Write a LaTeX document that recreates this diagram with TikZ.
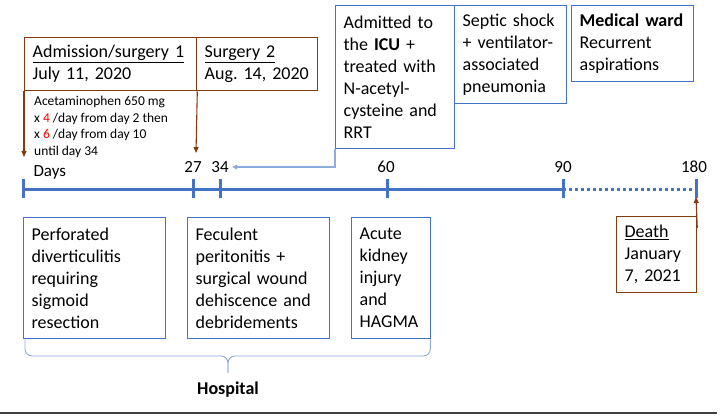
\documentclass[tikz,border=0pt]{standalone}
\usepackage{fontspec}
\setmainfont{Carlito}
\usetikzlibrary{calc,arrows.meta}
\definecolor{evblue}{HTML}{4472C4}
\definecolor{evlight}{HTML}{8FAADC}
\definecolor{evbrown}{HTML}{843C0C}
\frenchspacing
\begin{document}
\begin{tikzpicture}[x=1pt,y=-1pt,
	evbox/.style={draw=evblue, line width=1.3pt, anchor=north west, align=left, inner xsep=8pt, inner ysep=0pt, font=\fontsize{18}{22}\selectfont},
	brbox/.style={evbox, draw=evbrown},
	axis/.style={evblue, line width=3pt},
	daylab/.style={font=\fontsize{17}{20}\selectfont},
	brarrow/.style={evbrown, line width=1.1pt, arrows={-Triangle[length=6pt,width=5pt]}},
	icuarrow/.style={evlight, line width=1.1pt, arrows={-Triangle[length=5pt,width=5pt]}},
	brace/.style={evlight, line width=0.9pt, rounded corners=7pt}]
	\useasboundingbox (0,0) rectangle (721,417);
	% top boxes
	\node [brbox, minimum width=172pt, minimum height=53pt, text width=156pt] (adm) at (24,37) {\underline{Admission/surgery 1}\\July 11, 2020};
	\node [brbox, minimum width=121pt, minimum height=53pt, text width=105pt] (surg) at (196,37) {\underline{Surgery 2}\\Aug.~14,~2020};
	\node [evbox, minimum width=119pt, minimum height=143pt, text width=103pt] (icu) at (335,5) {Admitted to\\the \textbf{ICU} +\\treated with\\N-acetyl-\\cysteine and\\RRT};
	\node [evbox, minimum width=112pt, minimum height=98pt, text width=96pt] (septic) at (454,5) {Septic shock\\+ ventilator-\\associated\\pneumonia};
	\node [evbox, minimum width=122pt, minimum height=76pt, text width=106pt] (ward) at (571,5) {\textbf{Medical ward}\\Recurrent\\aspirations};
	\node [anchor=west, align=left, inner sep=0pt, font=\fontsize{13.5}{16.5}\selectfont] (acet) at (34,127) {Acetaminophen 650 mg\\x \textcolor{red}{4} /day from day 2 then\\x \textcolor{red}{6} /day from day 10\\until day 34};
	% time axis
	\coordinate (t0) at (23,190);
	\coordinate (t27) at (193,190);
	\coordinate (t34) at (220,190);
	\coordinate (t60) at (387,190);
	\coordinate (t90) at (563,190);
	\coordinate (t180) at (696,190);
	\draw [axis] (t0) -- (t90);
	\draw [axis, dash pattern=on 3pt off 3pt] (t90) -- (t180);
	\foreach \d in {0,27,34,60,90,180}
		\draw [axis] ($(t\d)+(0,-11)$) -- ($(t\d)+(0,8)$);
	\node [daylab, anchor=west] (days) at (30,172) {Days};
	\node [daylab] (l27) at (193,167) {27};
	\node [daylab] (l34) at (220,167) {34};
	\node [daylab] (l60) at (386,167) {60};
	\node [daylab] (l90) at (563,167) {90};
	\node [daylab] (l180) at (694,167) {180};
	% bottom boxes
	\node [evbox, minimum width=142pt, minimum height=121pt, text width=126pt] (perf) at (23,217) {Perforated\\diverticulitis\\requiring\\sigmoid\\resection};
	\node [evbox, minimum width=142pt, minimum height=121pt, text width=126pt] (fec) at (187,217) {Feculent\\peritonitis +\\surgical wound\\dehiscence and\\debridements};
	\node [evbox, minimum width=79pt, minimum height=121pt, text width=63pt] (acute) at (351,217) {Acute\\kidney\\injury\\and\\HAGMA};
	\node [brbox, minimum width=80pt, minimum height=76pt, text width=64pt] (death) at (616,216) {\underline{Death}\\January\\7, 2021};
	% arrows
	\coordinate (a0) at (24,157);
	\coordinate (a27) at (196,153);
	\coordinate (d180) at (696,197);
	\draw [brarrow] (adm.south west) -- (a0);
	\draw [brarrow] (adm.south east) -- (a27);
	\draw [icuarrow] (icu.south west) |- (l34.east);
	\draw [brarrow] ([yshift=-12pt]death.north east) -- (d180);
	% hospital brace
	\coordinate (tip) at (228,373);
	\draw [brace] ([xshift=2pt]perf.south west) |- ($(tip)+(0,-17)$) -- (tip);
	\draw [brace] ([xshift=-1pt]acute.south east) |- ($(tip)+(0,-17)$) -- (tip);
	\node [font=\fontsize{18}{22}\selectfont\bfseries] (hosp) at (228,390) {Hospital};
	\draw [line width=2.5pt, black!75] (0,413) -- (717,413);
\end{tikzpicture}
\end{document}
